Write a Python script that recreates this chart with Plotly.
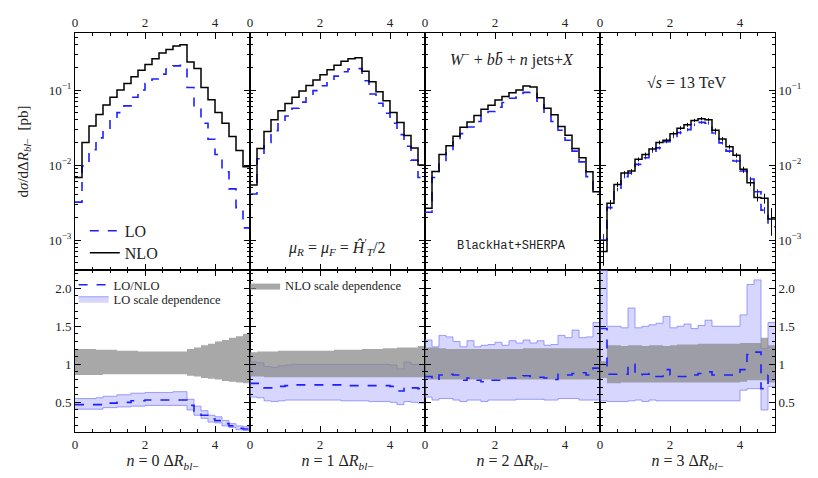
import numpy as np
import plotly.graph_objects as go
from plotly.subplots import make_subplots

# bin edges for Delta R_bl- (0 .. 5, width 0.2)
EDGES = list(np.round(np.linspace(0, 5, 26), 2))

# differential cross sections [pb], one list per jet multiplicity n = 0..3
NLO = [
    [0.0068, 0.020, 0.033, 0.047, 0.063, 0.080, 0.100, 0.122, 0.150, 0.184, 0.218, 0.262, 0.311,
     0.348, 0.385, 0.400, 0.236, 0.193, 0.108, 0.074, 0.050, 0.036, 0.024, 0.0156, 0.0095],
    [0.0054, 0.0166, 0.0279, 0.040, 0.053, 0.066, 0.080, 0.097, 0.115, 0.136, 0.160, 0.186, 0.214,
     0.242, 0.262, 0.270, 0.178, 0.129, 0.095, 0.072, 0.050, 0.037, 0.0247, 0.0169, 0.0100],
    [0.00265, 0.0082, 0.0138, 0.018, 0.0242, 0.0318, 0.0374, 0.0458, 0.0555, 0.0627, 0.0738, 0.0817, 0.092,
     0.100, 0.113, 0.110, 0.079, 0.057, 0.0467, 0.0327, 0.0249, 0.0166, 0.0125, 0.0081, 0.0044],
    [0.0007, 0.0031, 0.0055, 0.0078, 0.0083, 0.0119, 0.0138, 0.0164, 0.020, 0.0214, 0.0262, 0.031, 0.0344,
     0.0393, 0.0415, 0.040, 0.029, 0.0223, 0.0175, 0.0135, 0.0088, 0.0058, 0.0037, 0.0036, 0.0019],
]
LO = [
    [0.0032, 0.0097, 0.016, 0.023, 0.030, 0.040, 0.050, 0.0615, 0.080, 0.100, 0.122, 0.140, 0.163,
     0.190, 0.210, 0.213, 0.108, 0.060, 0.036, 0.022, 0.0138, 0.0081, 0.0048, 0.0027, 0.00145],
    [0.0041, 0.0121, 0.020, 0.0287, 0.037, 0.045, 0.057, 0.069, 0.083, 0.098, 0.114, 0.133, 0.153,
     0.175, 0.190, 0.193, 0.133, 0.0886, 0.0667, 0.049, 0.036, 0.0254, 0.0178, 0.0116, 0.0068],
    [0.00234, 0.0068, 0.0111, 0.0161, 0.0208, 0.0262, 0.0321, 0.0381, 0.0453, 0.0517, 0.059, 0.068, 0.0776,
     0.086, 0.093, 0.095, 0.0667, 0.049, 0.0381, 0.029, 0.0214, 0.0153, 0.011, 0.007, 0.0042],
    [0.0010, 0.0027, 0.0047, 0.0070, 0.0078, 0.0102, 0.0125, 0.0153, 0.0169, 0.0205, 0.024, 0.027, 0.0296,
     0.0344, 0.037, 0.036, 0.0267, 0.0197, 0.0153, 0.0113, 0.0083, 0.0065, 0.0044, 0.0025, 0.0015],
]
# relative MC errors shown for n = 3
NLO3_ERR = [0.35, 0.10, 0.08, 0.06, 0.06, 0.06, 0.06, 0.06, 0.06, 0.06, 0.06, 0.06, 0.06,
            0.05, 0.05, 0.05, 0.06, 0.06, 0.06, 0.07, 0.08, 0.10, 0.12, 0.15, 0.40]
LO3_ERR = [0.20, 0.06, 0.05, 0.05, 0.05, 0.05, 0.05, 0.05, 0.05, 0.05, 0.05, 0.05, 0.05,
           0.04, 0.04, 0.04, 0.05, 0.05, 0.05, 0.05, 0.06, 0.07, 0.08, 0.10, 0.15]

# LO/NLO ratio
RATIO = [
    [0.47, 0.47, 0.47, 0.47, 0.49, 0.49, 0.50, 0.50, 0.52, 0.52, 0.53, 0.53, 0.53,
     0.53, 0.53, 0.53, 0.46, 0.38, 0.33, 0.28, 0.26, 0.22, 0.19, 0.16, 0.15],
    [0.75, 0.75, 0.69, 0.69, 0.71, 0.72, 0.73, 0.73, 0.73, 0.73, 0.73, 0.73, 0.73,
     0.73, 0.72, 0.72, 0.72, 0.72, 0.72, 0.72, 0.71, 0.65, 0.70, 0.69, 0.68],
    [0.84, 0.79, 0.86, 0.87, 0.86, 0.79, 0.82, 0.79, 0.77, 0.79, 0.79, 0.82, 0.82,
     0.84, 0.85, 0.84, 0.83, 0.82, 0.80, 0.87, 0.86, 0.88, 0.89, 0.86, 0.95],
    [1.47, 0.87, 0.87, 0.87, 1.00, 0.86, 0.87, 0.88, 0.84, 0.93, 0.86, 0.84, 0.84,
     0.86, 0.88, 0.90, 0.86, 0.86, 0.86, 0.86, 0.93, 1.13, 1.16, 0.68, 0.86],
]
# LO scale dependence band (normalised to NLO)
LO_HI = [
    [0.55, 0.55, 0.55, 0.56, 0.58, 0.58, 0.60, 0.60, 0.62, 0.62, 0.63, 0.63, 0.63,
     0.63, 0.64, 0.64, 0.54, 0.45, 0.39, 0.33, 0.31, 0.26, 0.22, 0.19, 0.18],
    [1.03, 1.02, 0.97, 0.96, 0.98, 0.99, 1.00, 1.00, 1.00, 1.00, 1.00, 1.00, 1.00,
     1.00, 1.00, 1.00, 1.00, 1.00, 1.00, 1.00, 0.99, 0.94, 1.03, 1.00, 1.00],
    [1.32, 1.23, 1.38, 1.36, 1.30, 1.23, 1.31, 1.23, 1.25, 1.26, 1.29, 1.25, 1.31,
     1.28, 1.32, 1.28, 1.31, 1.25, 1.26, 1.38, 1.35, 1.45, 1.35, 1.36, 1.55],
    [2.60, 1.50, 1.50, 1.48, 1.74, 1.48, 1.50, 1.52, 1.54, 1.63, 1.48, 1.50, 1.53,
     1.47, 1.51, 1.58, 1.50, 1.50, 1.50, 1.50, 1.65, 2.05, 2.11, 1.21, 1.55],
]
LO_LO = [
    [0.41, 0.41, 0.41, 0.41, 0.43, 0.43, 0.44, 0.44, 0.45, 0.45, 0.46, 0.46, 0.46,
     0.46, 0.46, 0.46, 0.40, 0.33, 0.29, 0.24, 0.23, 0.19, 0.17, 0.14, 0.13],
    [0.57, 0.56, 0.52, 0.51, 0.52, 0.53, 0.53, 0.53, 0.53, 0.53, 0.53, 0.53, 0.53,
     0.52, 0.52, 0.52, 0.52, 0.51, 0.51, 0.51, 0.50, 0.47, 0.51, 0.50, 0.49],
    [0.57, 0.53, 0.55, 0.55, 0.53, 0.51, 0.53, 0.53, 0.51, 0.53, 0.53, 0.53, 0.53,
     0.54, 0.54, 0.54, 0.54, 0.53, 0.53, 0.55, 0.55, 0.55, 0.53, 0.53, 0.53],
    [0.52, 0.51, 0.51, 0.51, 0.52, 0.53, 0.51, 0.53, 0.52, 0.52, 0.52, 0.52, 0.52,
     0.52, 0.52, 0.52, 0.52, 0.52, 0.52, 0.52, 0.66, 0.68, 0.68, 0.40, 0.71],
]
# NLO scale dependence band
NLO_HI = [
    [1.20, 1.20, 1.20, 1.19, 1.19, 1.19, 1.18, 1.18, 1.18, 1.17, 1.17, 1.17, 1.17,
     1.17, 1.17, 1.17, 1.20, 1.22, 1.25, 1.27, 1.30, 1.32, 1.35, 1.37, 1.40],
    [1.16, 1.17, 1.17, 1.17, 1.18, 1.18, 1.18, 1.18, 1.18, 1.18, 1.18, 1.18, 1.19,
     1.19, 1.19, 1.19, 1.20, 1.20, 1.20, 1.21, 1.21, 1.22, 1.22, 1.22, 1.24],
    [1.22, 1.22, 1.21, 1.20, 1.20, 1.20, 1.20, 1.20, 1.20, 1.20, 1.20, 1.20, 1.20,
     1.20, 1.21, 1.21, 1.21, 1.21, 1.21, 1.21, 1.21, 1.21, 1.21, 1.21, 1.21],
    [1.04, 1.25, 1.25, 1.24, 1.25, 1.25, 1.24, 1.25, 1.25, 1.24, 1.25, 1.26, 1.26,
     1.26, 1.27, 1.27, 1.27, 1.27, 1.27, 1.27, 1.28, 1.28, 1.28, 1.35, 1.25],
]
NLO_LO = [
    [0.86, 0.86, 0.86, 0.86, 0.87, 0.87, 0.87, 0.87, 0.87, 0.87, 0.87, 0.87, 0.87,
     0.87, 0.87, 0.87, 0.85, 0.84, 0.82, 0.81, 0.80, 0.78, 0.77, 0.76, 0.75],
    [0.84, 0.84, 0.83, 0.83, 0.83, 0.83, 0.83, 0.83, 0.83, 0.83, 0.83, 0.83, 0.83,
     0.83, 0.83, 0.83, 0.83, 0.83, 0.83, 0.83, 0.83, 0.83, 0.83, 0.83, 0.83],
    [0.80, 0.80, 0.80, 0.80, 0.80, 0.80, 0.80, 0.80, 0.80, 0.80, 0.80, 0.80, 0.80,
     0.80, 0.80, 0.80, 0.80, 0.80, 0.80, 0.80, 0.80, 0.80, 0.80, 0.80, 0.80],
    [0.82, 0.75, 0.75, 0.76, 0.76, 0.76, 0.76, 0.76, 0.76, 0.76, 0.76, 0.76, 0.76,
     0.76, 0.76, 0.76, 0.76, 0.76, 0.76, 0.76, 0.77, 0.79, 0.79, 0.79, 0.76],
]
N_LABELS = ["0", "1", "2", "3"]

BLUE = "#1f1fff"
BAND_FILL = "rgba(165,165,255,0.45)"
BAND_EDGE = "rgba(120,120,255,0.7)"
GRAY_FILL = "rgba(135,135,135,0.72)"
FONT = "Liberation Serif"


def step(vals):
    return vals + [vals[-1]]


centers = [(EDGES[i] + EDGES[i + 1]) / 2 for i in range(len(EDGES) - 1)]

fig = make_subplots(rows=2, cols=4, horizontal_spacing=0, vertical_spacing=0,
                    row_heights=[0.594, 0.406])

for c in range(4):
    col = c + 1
    # top: LO and NLO histograms
    fig.add_trace(go.Scatter(x=EDGES, y=step(LO[c]), mode="lines", line_shape="hv",
                             line=dict(color=BLUE, width=1.6, dash="dash"),
                             name="LO", showlegend=(c == 0), legend="legend"),
                  row=1, col=col)
    fig.add_trace(go.Scatter(x=EDGES, y=step(NLO[c]), mode="lines", line_shape="hv",
                             line=dict(color="black", width=1.5),
                             name="NLO", showlegend=(c == 0), legend="legend5"),
                  row=1, col=col)
    if c == 3:
        fig.add_trace(go.Scatter(x=centers, y=LO[c], mode="markers", marker=dict(size=0.1, color=BLUE),
                                 error_y=dict(type="data", array=[v * e for v, e in zip(LO[c], LO3_ERR)],
                                              color=BLUE, thickness=1, width=0),
                                 showlegend=False), row=1, col=col)
        fig.add_trace(go.Scatter(x=centers, y=NLO[c], mode="markers", marker=dict(size=0.1, color="black"),
                                 error_y=dict(type="data", array=[v * e for v, e in zip(NLO[c], NLO3_ERR)],
                                              color="black", thickness=1, width=0),
                                 showlegend=False), row=1, col=col)

    # bottom: LO band, NLO band, ratio
    fig.add_trace(go.Scatter(x=EDGES, y=step(LO_LO[c]), mode="lines", line_shape="hv",
                             line=dict(color=BAND_EDGE, width=1), showlegend=False),
                  row=2, col=col)
    fig.add_trace(go.Scatter(x=EDGES, y=step(LO_HI[c]), mode="lines", line_shape="hv",
                             line=dict(color=BAND_EDGE, width=1), fill="tonexty", fillcolor=BAND_FILL,
                             name="LO scale dependence", showlegend=(c == 0), legend="legend4"),
                  row=2, col=col)
    fig.add_trace(go.Scatter(x=EDGES, y=step(NLO_LO[c]), mode="lines", line_shape="hv",
                             line=dict(width=0, color=GRAY_FILL), showlegend=False),
                  row=2, col=col)
    fig.add_trace(go.Scatter(x=EDGES, y=step(NLO_HI[c]), mode="lines", line_shape="hv",
                             line=dict(width=0, color=GRAY_FILL), fill="tonexty", fillcolor=GRAY_FILL,
                             name="NLO scale dependence", showlegend=(c == 1), legend="legend3"),
                  row=2, col=col)
    fig.add_trace(go.Scatter(x=EDGES, y=step(RATIO[c]), mode="lines", line_shape="hv",
                             line=dict(color=BLUE, width=1.6, dash="dash"),
                             name="LO/NLO", showlegend=(c == 0), legend="legend2"),
                  row=2, col=col)

axis_common = dict(showline=True, linecolor="black", linewidth=1, mirror="allticks",
                   ticks="inside", ticklen=6, tickcolor="black", showgrid=False, zeroline=False,
                   automargin=False, tickfont=dict(family=FONT, size=13, color="#222"))

for c in range(4):
    col = c + 1
    fig.update_xaxes(axis_common, range=[0, 5], tickvals=[0, 2, 4], side="top",
                     minor=dict(ticks="inside", ticklen=3, dtick=0.5, tickcolor="black"),
                     row=1, col=col)
    fig.update_xaxes(axis_common, range=[0, 5], tickvals=[0, 2, 4],
                     minor=dict(ticks="inside", ticklen=3, dtick=0.5, tickcolor="black"),
                     title=dict(text="<i>n</i> = " + N_LABELS[c] + " Δ<i>R</i><sub><i>bl</i>−</sub>",
                                font=dict(family=FONT, size=16, color="#222"), standoff=4),
                     row=2, col=col)
    fig.update_yaxes(axis_common, type="log", range=[-3.4, -0.24],
                     tickvals=[0.001, 0.01, 0.1],
                     ticktext=["10<sup>−3</sup>", "10<sup>−2</sup>", "10<sup>−1</sup>"],
                     minor=dict(ticks="inside", ticklen=3, tickcolor="black", dtick="D1"),
                     showticklabels=(c in (0, 3)), side=("right" if c == 3 else "left"),
                     row=1, col=col)
    fig.update_yaxes(axis_common, range=[0.11, 2.24], tickvals=[0.5, 1, 1.5, 2.0],
                     ticktext=["0.5", "1", "1.5", "2.0"],
                     minor=dict(ticks="inside", ticklen=3, dtick=0.1, tickcolor="black"),
                     showticklabels=(c in (0, 3)), side=("right" if c == 3 else "left"),
                     row=2, col=col)

fig.update_yaxes(title=dict(text="d<i>σ</i>/dΔ<i>R</i><sub><i>bl</i>−</sub>  [pb]",
                            font=dict(family=FONT, size=15, color="#222"), standoff=16),
                 row=1, col=1)

ann_font = dict(family=FONT, size=16, color="#222")
ann_common = dict(xref="paper", yref="paper", xanchor="center", yanchor="middle", showarrow=False)
fig.add_annotation(ann_common, x=0.374, y=0.464,
                   text="<i>μ</i><sub><i>R</i></sub> = <i>μ</i><sub><i>F</i></sub> = "
                        "<i>Ĥ</i><sup>′</sup><sub><i>T</i></sub>/2", font=ann_font)
fig.add_annotation(ann_common, x=0.624, y=0.937,
                   text="<i>W</i><sup>−</sup> + <i>b</i><i>b̄</i> + <i>n</i> jets+<i>X</i>", font=ann_font)
fig.add_annotation(ann_common, x=0.624, y=0.466,
                   text="BlackHat+SHERPA", font=dict(family="Liberation Mono", size=12, color="#222"))
fig.add_annotation(ann_common, x=0.874, y=0.877,
                   text="√<i>s</i> = 13 TeV", font=ann_font)


def one_legend(x, y, size):
    return dict(x=x, y=y, xanchor="left", yanchor="middle", bgcolor="rgba(0,0,0,0)",
                font=dict(family=FONT, size=size, color="#222"), itemwidth=30)


# page has an 8px body offset, so margins are shifted to land the plot at x 75-775, y 33-432
fig.update_layout(
    width=818, height=478,
    margin=dict(l=67, r=51, t=25, b=54),
    paper_bgcolor="white", plot_bgcolor="white",
    font=dict(family=FONT, color="#222"),
    legend=one_legend(0.014, 0.504, 16),
    legend5=one_legend(0.014, 0.449, 16),
    legend2=one_legend(-0.002, 0.368, 12.5),
    legend4=one_legend(-0.002, 0.333, 12.5),
    legend3=one_legend(0.243, 0.366, 12.5),
)

fig.write_html("out.html")
